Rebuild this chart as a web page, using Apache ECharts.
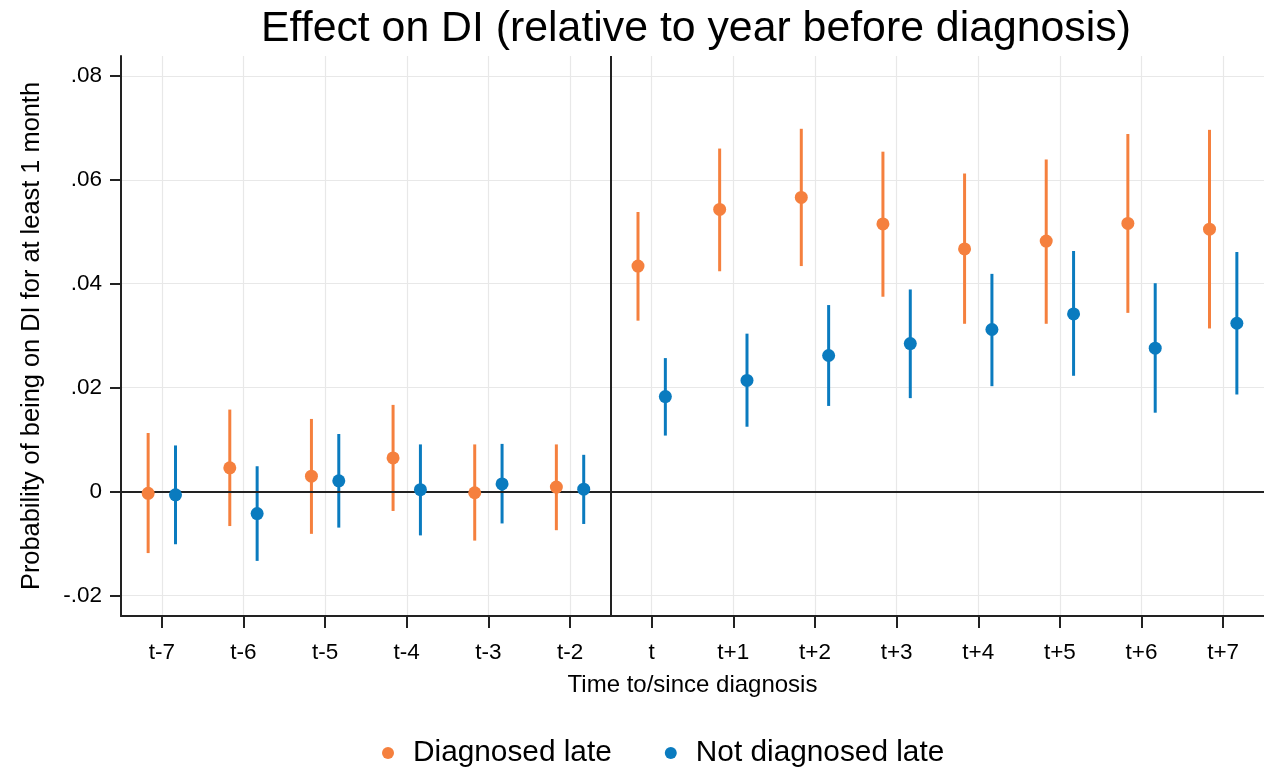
<!DOCTYPE html>
<html>
<head>
<meta charset="utf-8">
<script src="https://cdn.jsdelivr.net/npm/echarts@6/dist/echarts.min.js"></script>
<style>
html, body { margin: 0; padding: 0; background: #ffffff; }
#main { width: 1264px; height: 770px; }
</style>
</head>
<body>
<div id="main"></div>
<script>
// ---- data ----
const categories = ['t-7', 't-6', 't-5', 't-4', 't-3', 't-2', 't', 't+1', 't+2', 't+3', 't+4', 't+5', 't+6', 't+7'];
const yTickValues = [-0.02, 0, 0.02, 0.04, 0.06, 0.08];
const yTickLabels = ['-.02', '0', '.02', '.04', '.06', '.08'];

const lateEst = [-0.0003, 0.0046, 0.0030, 0.0065, -0.0002, 0.0009, 0.0434, 0.0543, 0.0566, 0.0515, 0.0467, 0.0482, 0.0516, 0.0505];
const lateLo  = [-0.0118, -0.0066, -0.0081, -0.0037, -0.0094, -0.0074, 0.0329, 0.0424, 0.0434, 0.0375, 0.0323, 0.0323, 0.0344, 0.0314];
const lateHi  = [0.0113, 0.0158, 0.0140, 0.0167, 0.0091, 0.0091, 0.0538, 0.0660, 0.0698, 0.0654, 0.0612, 0.0639, 0.0688, 0.0696];

const notLateEst = [-0.0006, -0.0042, 0.0021, 0.0004, 0.0015, 0.0005, 0.0183, 0.0214, 0.0262, 0.0285, 0.0312, 0.0342, 0.0276, 0.0324];
const notLateLo  = [-0.0101, -0.0133, -0.0069, -0.0084, -0.0061, -0.0062, 0.0108, 0.0125, 0.0165, 0.0180, 0.0203, 0.0223, 0.0152, 0.0187];
const notLateHi  = [0.0089, 0.0049, 0.0111, 0.0091, 0.0092, 0.0071, 0.0257, 0.0304, 0.0359, 0.0389, 0.0419, 0.0463, 0.0401, 0.0461];

const seriesNames = ['Diagnosed late', 'Not diagnosed late'];
const titleText = 'Effect on DI (relative to year before diagnosis)';
const xAxisTitle = 'Time to/since diagnosis';
const yAxisTitle = 'Probability of being on DI for at least 1 month';

// ---- styling / layout ----
const FONT = '"Liberation Sans", Arial, Helvetica, sans-serif';
const ORANGE = '#F5803E';
const BLUE = '#0A7BBF';
const AXIS_COLOR = '#222222';
const GRID_COLOR = '#e8e8e8';
const DODGE = 0.1675; // horizontal offset of the two groups within a category

const catIdx = categories.map((c, i) => i);
const separatorX = (categories.indexOf('t-2') + categories.indexOf('t')) / 2;

function points(est, off) { return est.map((v, i) => [i + off, v]); }
function bars(lo, hi, off) { return lo.map((v, i) => [i + off, v, hi[i]]); }
function barRenderer(color) {
  return function (params, api) {
    const x = api.value(0);
    const a = api.coord([x, api.value(1)]);
    const b = api.coord([x, api.value(2)]);
    return {
      type: 'line',
      shape: { x1: a[0], y1: a[1], x2: b[0], y2: b[1] },
      style: { stroke: color, lineWidth: 3 }
    };
  };
}

const chart = echarts.init(document.getElementById('main'), null, { renderer: 'canvas' });

const option = {
  animation: false,
  backgroundColor: '#ffffff',
  title: {
    text: titleText,
    left: 691,
    top: 3,
    textAlign: 'center',
    textStyle: { fontFamily: FONT, fontSize: 42.8, fontWeight: 'normal', color: '#000' }
  },
  legend: {
    data: seriesNames,
    icon: 'circle',
    left: 377,
    top: 733,
    itemWidth: 40,
    itemHeight: 12,
    itemGap: 53,
    textStyle: { fontFamily: FONT, fontSize: 29.8, color: '#000' }
  },
  grid: { left: 121, right: 0, top: 56, bottom: 154, containLabel: false },
  xAxis: {
    type: 'value',
    min: -0.5,
    max: 13.5,
    name: xAxisTitle,
    nameLocation: 'middle',
    nameGap: 57,
    nameTextStyle: { fontFamily: FONT, fontSize: 24, color: '#000' },
    axisLine: { show: true, onZero: false, lineStyle: { color: AXIS_COLOR, width: 2 } },
    axisTick: { show: true, customValues: catIdx, length: 12, lineStyle: { color: AXIS_COLOR, width: 2 } },
    axisLabel: {
      customValues: catIdx,
      formatter: v => categories[Math.round(v)],
      margin: 25,
      fontFamily: FONT, fontSize: 22.5, color: '#000'
    },
    splitLine: { show: true, lineStyle: { color: GRID_COLOR, width: 1.2 } }
  },
  yAxis: {
    type: 'value',
    min: -0.0239,
    max: 0.0838,
    name: yAxisTitle,
    nameLocation: 'middle',
    nameGap: 77,
    nameTextStyle: { fontFamily: FONT, fontSize: 25.4, color: '#000' },
    axisLine: { show: true, onZero: false, lineStyle: { color: AXIS_COLOR, width: 2 } },
    axisTick: { show: true, customValues: yTickValues, length: 11, lineStyle: { color: AXIS_COLOR, width: 2 } },
    axisLabel: {
      customValues: yTickValues,
      formatter: v => { const k = yTickValues.findIndex(t => Math.abs(t - v) < 1e-9); return k >= 0 ? yTickLabels[k] : ''; },
      margin: 19,
      fontFamily: FONT, fontSize: 22.5, color: '#000'
    },
    splitLine: { show: true, lineStyle: { color: GRID_COLOR, width: 1.2 } }
  },
  series: [
    {
      name: seriesNames[0],
      type: 'scatter',
      z: 5,
      symbol: 'circle',
      symbolSize: 13,
      itemStyle: { color: ORANGE, opacity: 1 },
      data: points(lateEst, -DODGE)
    },
    {
      name: seriesNames[1],
      type: 'scatter',
      z: 5,
      symbol: 'circle',
      symbolSize: 13,
      itemStyle: { color: BLUE, opacity: 1 },
      data: points(notLateEst, DODGE)
    },
    {
      name: seriesNames[0],
      type: 'custom',
      z: 4,
      renderItem: barRenderer(ORANGE),
      encode: { x: 0, y: [1, 2] },
      data: bars(lateLo, lateHi, -DODGE)
    },
    {
      name: seriesNames[1],
      type: 'custom',
      z: 4,
      renderItem: barRenderer(BLUE),
      encode: { x: 0, y: [1, 2] },
      data: bars(notLateLo, notLateHi, DODGE)
    },
    {
      name: 'reference lines',
      type: 'line',
      z: 2,
      data: [],
      silent: true,
      markLine: {
        silent: true,
        symbol: 'none',
        animation: false,
        label: { show: false },
        lineStyle: { color: AXIS_COLOR, width: 2, type: 'solid' },
        data: [{ yAxis: 0 }, { xAxis: separatorX }]
      }
    }
  ]
};

chart.setOption(option);
</script>
</body>
</html>
